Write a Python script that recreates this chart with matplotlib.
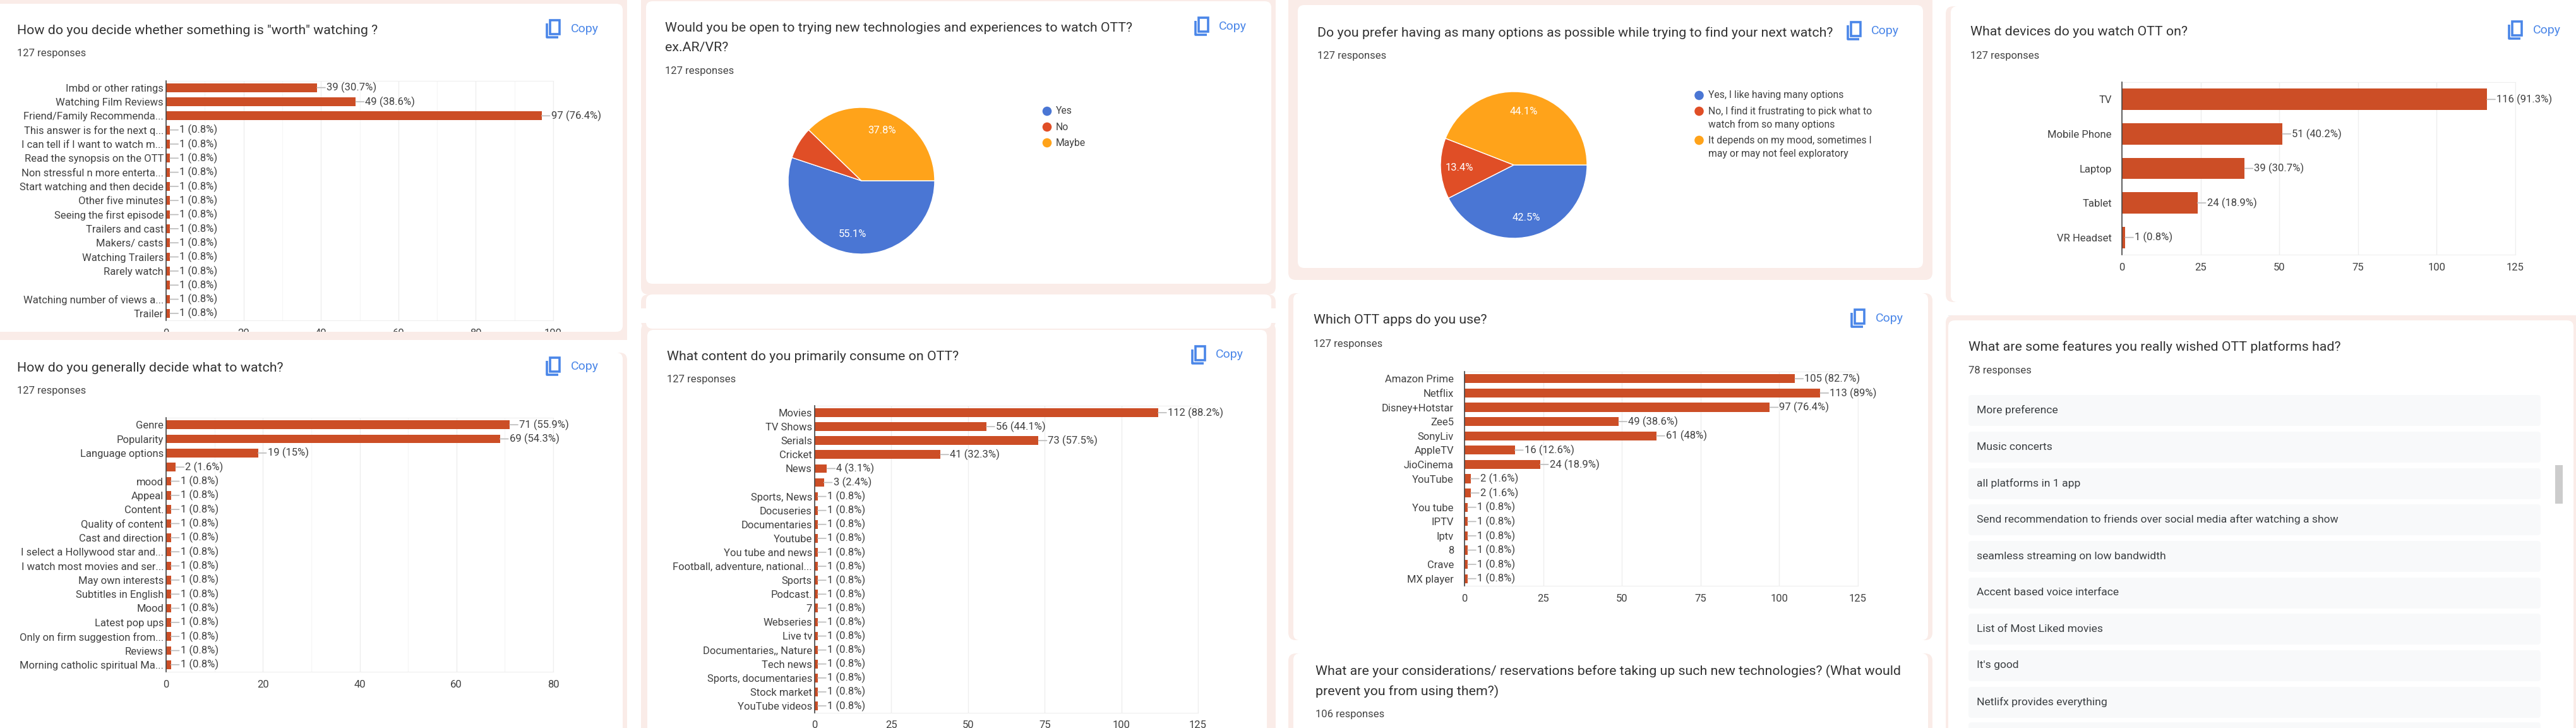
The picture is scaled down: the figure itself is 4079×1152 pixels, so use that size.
import matplotlib
matplotlib.use("Agg")
import matplotlib.pyplot as plt
from matplotlib.patches import FancyBboxPatch, Rectangle, Circle

plt.rcParams['font.family'] = ['Roboto', 'DejaVu Sans']

W, H = 4080, 1152
RESP = 127
BAR = '#cc4e26'; PINK = '#faece8'; TXT = '#3c3c3c'; LBL = '#404040'; GRID = '#eeeeee'; BLUE = '#4a86e8'
PIE_COL = ['#4a76d4', '#e04e26', '#ffa31a']

# ---- data ----
worth_labels = ['Imbd or other ratings', 'Watching Film Reviews', 'Friend/Family Recommenda...', 'This answer is for the next q...',
                'I can tell if I want to watch m...', 'Read the synopsis on the OTT', 'Non stressful n more enterta...',
                'Start watching and then decide', 'Other five minutes', 'Seeing the first episode', 'Trailers and cast',
                'Makers/ casts', 'Watching Trailers', 'Rarely watch', '', 'Watching number of views a...', 'Trailer']
worth_values = [39, 49, 97, 1, 1, 1, 1, 1, 1, 1, 1, 1, 1, 1, 1, 1, 1]
worth_ticks = [0, 20, 40, 60, 80, 100]

decide_labels = ['Genre', 'Popularity', 'Language options', '', 'mood', 'Appeal', 'Content.', 'Quality of content',
                 'Cast and direction', 'I select a Hollywood star and...', 'I watch most movies and ser...', 'May own interests',
                 'Subtitles in English', 'Mood', 'Latest pop ups', 'Only on firm suggestion from...', 'Reviews',
                 'Morning catholic spiritual Ma...']
decide_values = [71, 69, 19, 2, 1, 1, 1, 1, 1, 1, 1, 1, 1, 1, 1, 1, 1, 1]
decide_ticks = [0, 20, 40, 60, 80]

content_labels = ['Movies', 'TV Shows', 'Serials', 'Cricket', 'News', '', 'Sports, News', 'Docuseries', 'Documentaries', 'Youtube',
                  'You tube and news', 'Football, adventure, national...', 'Sports', 'Podcast.', '7', 'Webseries', 'Live tv',
                  'Documentaries,, Nature', 'Tech news', 'Sports, documentaries', 'Stock market', 'YouTube videos']
content_values = [112, 56, 73, 41, 4, 3, 1, 1, 1, 1, 1, 1, 1, 1, 1, 1, 1, 1, 1, 1, 1, 1]

apps_labels = ['Amazon Prime', 'Netflix', 'Disney+Hotstar', 'Zee5', 'SonyLiv', 'AppleTV', 'JioCinema', 'YouTube', '', 'You tube',
               'IPTV', 'Iptv', '8', 'Crave', 'MX player']
apps_values = [105, 113, 97, 49, 61, 16, 24, 2, 2, 1, 1, 1, 1, 1, 1]

device_labels = ['TV', 'Mobile Phone', 'Laptop', 'Tablet', 'VR Headset']
device_values = [116, 51, 39, 24, 1]
ticks_125 = [0, 25, 50, 75, 100, 125]

open_labels = ['Yes', 'No', 'Maybe']
open_values = [70, 9, 48]
options_labels = ['Yes, I like having many options', 'No, I find it frustrating to pick what to\nwatch from so many options',
                  'It depends on my mood, sometimes I\nmay or may not feel exploratory']
options_values = [54, 17, 56]

wishes = ['More preference', 'Music concerts', 'all platforms in 1 app',
          'Send recommendation to friends over social media after watching a show',
          'seamless streaming on low bandwidth', 'Accent based voice interface', 'List of Most Liked movies',
          "It's good", 'Netlifx provides everything']

fig = plt.figure(figsize=(W / 100, H / 100), dpi=100, facecolor='white')
bg = fig.add_axes([0, 0, 1, 1], zorder=0)
bg.set_xlim(0, W); bg.set_ylim(H, 0); bg.axis('off')
top = fig.add_axes([0, 0, 1, 1], zorder=5)
top.set_xlim(0, W); top.set_ylim(H, 0); top.axis('off'); top.patch.set_alpha(0)


def box(a, x0, y0, x1, y1, col, r=10, z=1):
    a.add_patch(FancyBboxPatch((x0 + r, y0 + r), x1 - x0 - 2 * r, y1 - y0 - 2 * r,
                               boxstyle=f'round,pad={r},rounding_size={r}', fc=col, ec='none', zorder=z))


def card(ox0, oy0, ox1, oy1, ix0, iy0, ix1, iy1):
    box(bg, ox0, oy0, ox1, oy1, PINK, 12, 1)
    box(bg, ix0, iy0, ix1, iy1, 'white', 10, 2)


def t(x, y, s, size=12, col=TXT, ha='left', a=bg, **k):
    a.text(x, y, s, fontsize=size, color=col, ha=ha, va='center', zorder=4, **k)


def copy_btn(cx, cy, tx):
    bg.add_patch(Rectangle((cx - 6, cy - 14), 15, 22, fc='none', ec=BLUE, lw=2.6, zorder=4))
    bg.plot([cx - 11, cx - 11, cx + 7], [cy - 9, cy + 13, cy + 13], color=BLUE, lw=2.6, zorder=4, solid_capstyle='butt')
    t(tx, cy, 'Copy', 14, BLUE)


def header(x, ys, title, rtext='127 responses'):
    for y, line in zip(ys[:-1], title):
        t(x, y, line, 15.4, '#333333')
    t(x, ys[-1], rtext, 12, '#444444')


def bars(x0, x1, y0, y1, labels, values, ticks, pad_px, minor=None):
    ax = fig.add_axes([x0 / W, 1 - y1 / H, (x1 - x0) / W, (y1 - y0) / H], zorder=2)
    ax.patch.set_alpha(0)
    n = len(values)
    ypos = list(range(n))
    ax.barh(ypos, values, height=0.62, color=BAR, zorder=3)
    ax.set_xlim(ticks[0], ticks[-1]); ax.set_ylim(n - 0.5, -0.5)
    ax.set_yticks(ypos, labels); ax.set_xticks(ticks, [str(v) for v in ticks])
    ax.tick_params(axis='y', length=0, pad=pad_px * 0.72, labelsize=12, labelcolor=LBL)
    ax.tick_params(axis='x', length=0, pad=9, labelsize=12, labelcolor=LBL)
    ax.set_axisbelow(True)
    ax.grid(axis='x', color=GRID, lw=1)
    if minor:
        ax.set_xticks(minor, minor=True)
        ax.tick_params(axis='x', which='minor', length=0)
        ax.grid(axis='x', which='minor', color='#f6f6f6', lw=1)
    for s in ['top', 'right', 'bottom']:
        ax.spines[s].set_color(GRID)
    ax.spines['left'].set_color('#444444'); ax.spines['left'].set_linewidth(1.2)
    ax.spines['left'].set_zorder(6)
    for i, v in zip(ypos, values):
        ax.annotate('', xy=(v, i), xytext=(13, 0), textcoords='offset pixels', xycoords='data',
                    arrowprops=dict(arrowstyle='-', color='#bbbbbb', lw=1.2, shrinkA=0, shrinkB=0))
        ax.annotate(f'{v} ({round(100 * v / RESP, 1):g}%)', xy=(v, i), xytext=(15, 0), textcoords='offset pixels',
                    fontsize=12, color=LBL, va='center', ha='left', annotation_clip=False, zorder=6)
    return ax


def pie(cx, cy, r, values):
    h = r + 8
    ax = fig.add_axes([(cx - h) / W, 1 - (cy + h) / H, 2 * h / W, 2 * h / H], zorder=2)
    ax.pie(values, colors=PIE_COL, startangle=0, counterclock=False, radius=1,
           wedgeprops=dict(edgecolor='white', linewidth=1),
           autopct=lambda p: f'{p:.1f}%' if p >= 10 else '', pctdistance=0.74,
           textprops=dict(color='white', fontsize=12))
    ax.set_xlim(-h / r, h / r); ax.set_ylim(-h / r, h / r)


def legend(x_dot, x_txt, rows, labels):
    for y, label in zip(rows, labels):
        bg.add_patch(Circle((x_dot, y), 7.3, fc=PIE_COL[labels.index(label)], ec='none', zorder=4))
        for j, line in enumerate(label.split('\n')):
            t(x_txt, y + j * 21, line, 11.3, LBL)


# ---- column 1 ----
card(-20, -20, 993, 538, -20, 6, 986, 525)
header(27, [48.5, 85], ['How do you decide whether something is "worth" watching ?'])
copy_btn(877, 46, 904)
bars(263, 876, 127.5, 507, worth_labels, worth_values, worth_ticks, 4, minor=[10, 30, 50, 70, 90])
top.add_patch(Rectangle((0, 525), 993, 13, fc=PINK, ec='none'))
top.add_patch(Rectangle((0, 538), 993, 20, fc='white', ec='none'))

card(-20, 558, 993, 1200, -20, 558, 986, 1200)
header(27, [583, 619], ['How do you generally decide what to watch?'])
copy_btn(877, 580, 904)
bars(263, 876, 661, 1063, decide_labels, decide_values, decide_ticks, 4, minor=[10, 30, 50, 70])

# ---- column 2 ----
card(1015, -20, 2020, 466, 1023, 2, 2013, 449)
header(1053, [44, 76, 113], ['Would you be open to trying new technologies and experiences to watch OTT?', 'ex.AR/VR?'])
copy_btn(1904, 42, 1930)
pie(1364, 286, 116, open_values)
legend(1658, 1672, [176, 201, 226], open_labels)

card(1015, 466, 2020, 520, 1023, 466, 2013, 520)
bg.add_patch(Rectangle((1010, 488), 1015, 23, fc='white', ec='none', zorder=3))
card(1015, 511, 2020, 1200, 1025, 522, 2006, 1200)
header(1056, [564, 600], ['What content do you primarily consume on OTT?'])
copy_btn(1899, 561.5, 1925)
bars(1290, 1897, 642, 1128, content_labels, content_values, ticks_125, 4)

# ---- column 3 ----
card(2040, -20, 3060, 443, 2055, 8, 3045, 424)
header(2086, [52, 88], ['Do you prefer having as many options as possible while trying to find your next watch?'])
copy_btn(2937, 49, 2963)
pie(2397, 261, 116, options_values)
legend(2690.5, 2705, [151, 176, 222], options_labels)

card(2040, 464, 3060, 1013, 2048, 464, 3053, 1013)
header(2080, [507, 544], ['Which OTT apps do you use?'])
copy_btn(2943, 504, 2970)
bars(2319, 2942, 588, 927, apps_labels, apps_values, ticks_125, 17)

card(2040, 1034, 3060, 1200, 2048, 1034, 3053, 1200)
header(2083, [1062, 1094, 1131], ['What are your considerations/ reservations before taking up such new technologies? (What would',
                                  'prevent you from using them?)'], '106 responses')

# ---- column 4 ----
card(3081, 10, 4200, 478, 3089, 10, 4200, 478)
header(3120, [50, 88], ['What devices do you watch OTT on?'])
copy_btn(3984, 48, 4011)
bars(3360, 3983, 130, 403, device_labels, device_values, ticks_125, 16)
bg.plot([3085, 4080], [499, 499], color='#f0f0f0', lw=1, zorder=1)

card(3081, 499, 4200, 1200, 3085, 507, 4075, 1200)
header(3117, [549, 586], ['What are some features you really wished OTT platforms had?'], '78 responses')
row_y = [649, 707, 765, 822, 880, 938, 995, 1053, 1111]
for y, s in zip(row_y, wishes):
    box(bg, 3117, y - 24, 4023, y + 25, '#f8f9fa', 5, 3)
    t(3130, y, s, 12.6, '#3c4043')
box(bg, 3117, 1143, 4023, 1200, '#f8f9fa', 5, 3)
bg.add_patch(Rectangle((4046, 736), 12, 61, fc='#cccccc', ec='none', zorder=4))

fig.savefig('out.png', dpi=100, facecolor='white')
